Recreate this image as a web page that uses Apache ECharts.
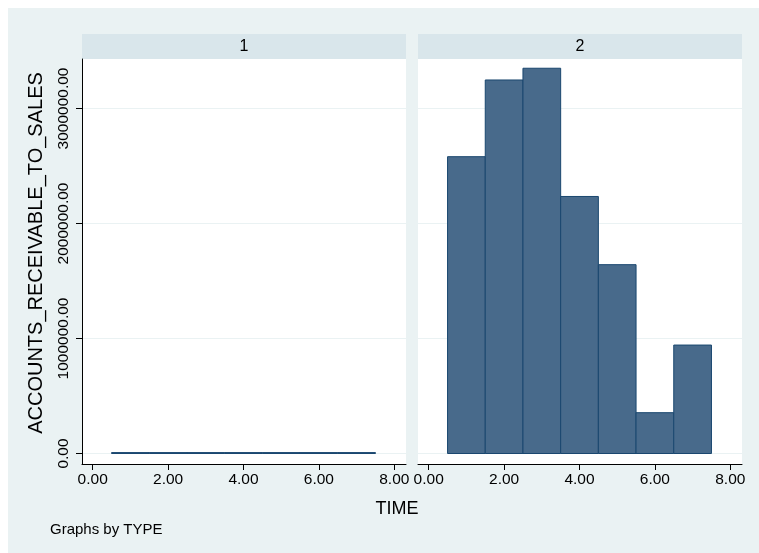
<!DOCTYPE html>
<html>
<head>
<meta charset="utf-8">
<script src="https://cdn.jsdelivr.net/npm/echarts@6/dist/echarts.min.js"></script>
<style>
html,body{margin:0;padding:0;background:#fff;}
#chart{width:759px;height:553px;}
</style>
</head>
<body>
<div id="chart"></div>
<script>
// ---- data ----
const PANELS = ['1', '2'];
const TIME = [1, 2, 3, 4, 5, 6, 7];
const BIN_WIDTH = 1;
const TYPE1_VALUES = [8000, 8000, 8000, 8000, 8000, 8000, 8000];
const TYPE2_VALUES = [2581000, 3248000, 3350000, 2235000, 1642000, 355000, 943000];
const Y_TICKS = [0, 1000000, 2000000, 3000000];
const X_TICKS = [0, 2, 4, 6, 8];
const Y_TITLE = 'ACCOUNTS_RECEIVABLE_TO_SALES';
const X_TITLE = 'TIME';
const NOTE = 'Graphs by TYPE';

const FONT = "'Liberation Sans', Arial, Helvetica, sans-serif";
const FILL = '#486a8b';
const STROKE = '#1a476f';
const BG = '#eaf2f3';
const STRIP = '#d9e6eb';

const chart = echarts.init(document.getElementById('chart'), null, {renderer: 'canvas'});

const gridTop = 59, gridH = 405, gridW = 324;
const lefts = [82, 418];

function fmt(v) { return Number(v).toFixed(2); }

const grids = lefts.map(l => ({
  left: l, top: gridTop, width: gridW, height: gridH,
  show: true, backgroundColor: '#ffffff', borderWidth: 0, containLabel: false
}));

const xAxes = lefts.map((l, i) => ({
  type: 'value', gridIndex: i, min: -0.284, max: 8.31,
  axisLine: {show: true, onZero: false, lineStyle: {color: '#000', width: 1}},
  axisTick: {show: true, length: 6, lineStyle: {color: '#000'}, customValues: X_TICKS},
  axisLabel: {show: true, customValues: X_TICKS, formatter: fmt, color: '#000',
    fontFamily: FONT, fontSize: 15.5, margin: 8, showMinLabel: true, showMaxLabel: true},
  splitLine: {show: false}
}));

const yAxes = lefts.map((l, i) => ({
  type: 'value', gridIndex: i, min: -91300, max: 3430400,
  axisLine: {show: i === 0, onZero: false, lineStyle: {color: '#000', width: 1}},
  axisTick: {show: i === 0, length: 6, lineStyle: {color: '#000'}, customValues: Y_TICKS},
  axisLabel: {show: i === 0, customValues: Y_TICKS, formatter: fmt, color: '#000',
    fontFamily: FONT, fontSize: 15.5, margin: 10, rotate: 90},
  splitLine: {show: true, lineStyle: {color: BG, width: 1}}
}));

function histSeries(values, idx) {
  return {
    type: 'custom', xAxisIndex: idx, yAxisIndex: idx,
    data: TIME.map((t, k) => [t - BIN_WIDTH / 2, t + BIN_WIDTH / 2, values[k]]),
    renderItem: function (params, api) {
      const p0 = api.coord([api.value(0), api.value(2)]);
      const p1 = api.coord([api.value(1), 0]);
      return {
        type: 'rect',
        shape: {x: p0[0], y: p0[1], width: p1[0] - p0[0], height: p1[1] - p0[1]},
        style: {fill: FILL, stroke: STROKE, lineWidth: 1}
      };
    },
    encode: {x: [0, 1], y: 2},
    silent: true, animation: false
  };
}

const graphics = [
  {type: 'rect', z: -10, silent: true, shape: {x: 8, y: 8, width: 751, height: 545}, style: {fill: BG}}
];
PANELS.forEach((p, i) => {
  graphics.push({type: 'rect', silent: true, shape: {x: lefts[i], y: 34, width: gridW, height: 25}, style: {fill: STRIP}});
  graphics.push({type: 'text', silent: true, x: lefts[i] + gridW / 2, y: 46.5,
    style: {text: p, fill: '#000', font: '16px ' + FONT, align: 'center', verticalAlign: 'middle'}});
});
graphics.push({type: 'text', silent: true, x: 397, y: 509,
  style: {text: X_TITLE, fill: '#000', font: '18px ' + FONT, align: 'center', verticalAlign: 'middle'}});
graphics.push({type: 'text', silent: true, x: 36.5, y: 253, rotation: Math.PI / 2,
  style: {text: Y_TITLE, fill: '#000', font: '20px ' + FONT, align: 'center', verticalAlign: 'middle'}});
graphics.push({type: 'text', silent: true, x: 50, y: 530,
  style: {text: NOTE, fill: '#000', font: '15px ' + FONT, align: 'left', verticalAlign: 'middle'}});

chart.setOption({
  animation: false,
  backgroundColor: '#ffffff',
  grid: grids,
  xAxis: xAxes,
  yAxis: yAxes,
  graphic: graphics,
  series: [histSeries(TYPE1_VALUES, 0), histSeries(TYPE2_VALUES, 1)]
});
</script>
</body>
</html>
